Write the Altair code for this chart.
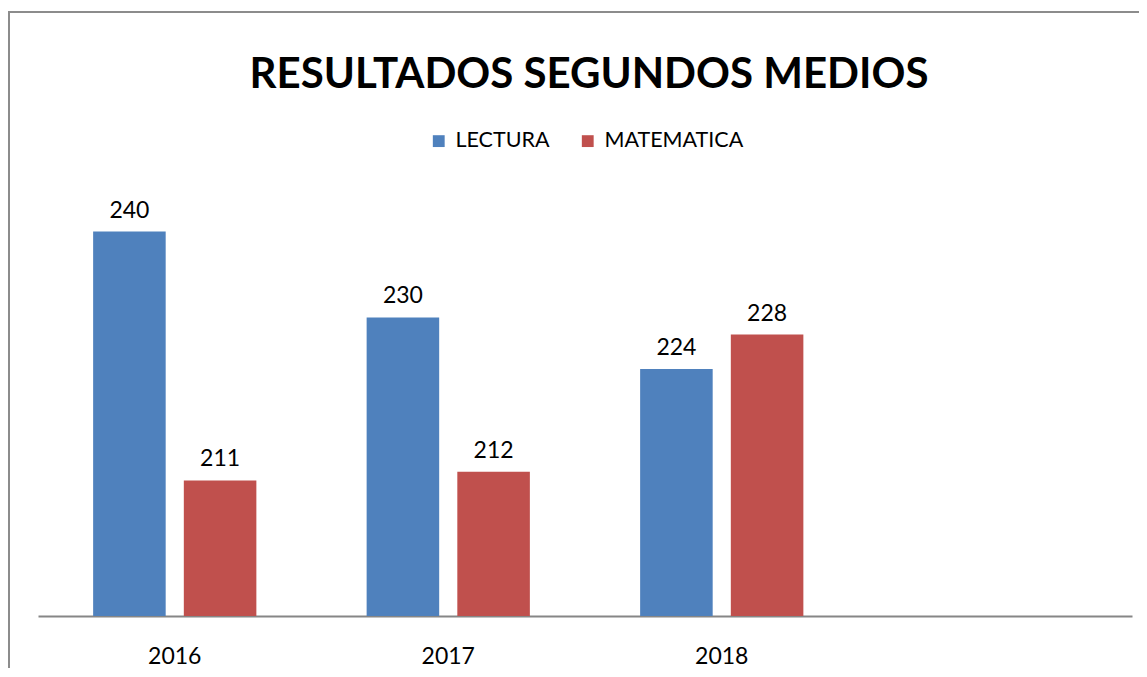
import altair as alt
import pandas as pd

years = ["2016", "2017", "2018"]
lectura = [240, 230, 224]
matematica = [211, 212, 228]
series = ["LECTURA", "MATEMATICA"]
colors = ["#4F81BD", "#C0504D"]
title_text = "RESULTADOS SEGUNDOS MEDIOS"

rows = []
for i, y in enumerate(years):
    rows.append({"year": y, "serie": "LECTURA", "value": lectura[i]})
    rows.append({"year": y, "serie": "MATEMATICA", "value": matematica[i]})
df = pd.DataFrame(rows)

x_enc = alt.X("year:N", scale=alt.Scale(domain=years + [" "], paddingInner=0, paddingOuter=0),
              axis=alt.Axis(title=None, labelAngle=0, ticks=False, domainColor="#868686",
                            domainWidth=2, labelFont="Lato", labelFontSize=23, labelColor="black",
                            labelBaseline="alphabetic", labelPadding=47, grid=False))
xoff = alt.XOffset("serie:N", scale=alt.Scale(domain=series, paddingInner=0.2, paddingOuter=0.608))
y_enc = alt.Y("value:Q", scale=alt.Scale(domain=[195.2, 245.2], zero=False, nice=False), axis=None)

base = alt.Chart(df)
bars = base.mark_bar(clip=True).encode(
    x=x_enc, xOffset=xoff, y=y_enc,
    color=alt.Color("serie:N", scale=alt.Scale(domain=series, range=colors),
                    legend=alt.Legend(title=None, orient="none", legendX=390, legendY=-57,
                                      direction="horizontal", symbolType="square", symbolSize=140,
                                      symbolStrokeWidth=0, labelFont="Lato", labelFontSize=21.5,
                                      labelColor="black", labelOffset=6, columnPadding=27,
                                      padding=0)),
)
labels = base.mark_text(font="Lato", fontSize=23, color="black", baseline="alphabetic", dy=-14).encode(
    x=x_enc, xOffset=xoff, y=y_enc, text=alt.Text("value:Q")
)

one = alt.Data(values=[{"t": title_text}])
title = alt.Chart(one).mark_text(font="Lato", fontSize=42, fontWeight="bold", color="black",
                                 align="center", baseline="alphabetic").encode(
    x=alt.value(551), y=alt.value(-99), text="t:N")
vline = alt.Chart(one).mark_rule(color="#8c8c8c", strokeWidth=2).encode(
    x=alt.value(-29), y=alt.value(-175), y2=alt.value(490))
hline = alt.Chart(one).mark_rule(color="#8c8c8c", strokeWidth=2).encode(
    y=alt.value(-175), x=alt.value(-30), x2=alt.value(1110))

chart = alt.layer(bars, labels, title, vline, hline).properties(
    width=1094, height=429,
    autosize=alt.AutoSizeParams(type="none"),
    padding={"left": 30, "top": 179, "right": 7, "bottom": 52},
).configure_view(stroke=None)

chart.save("out.html", embed_options={"renderer": "svg", "actions": False})
